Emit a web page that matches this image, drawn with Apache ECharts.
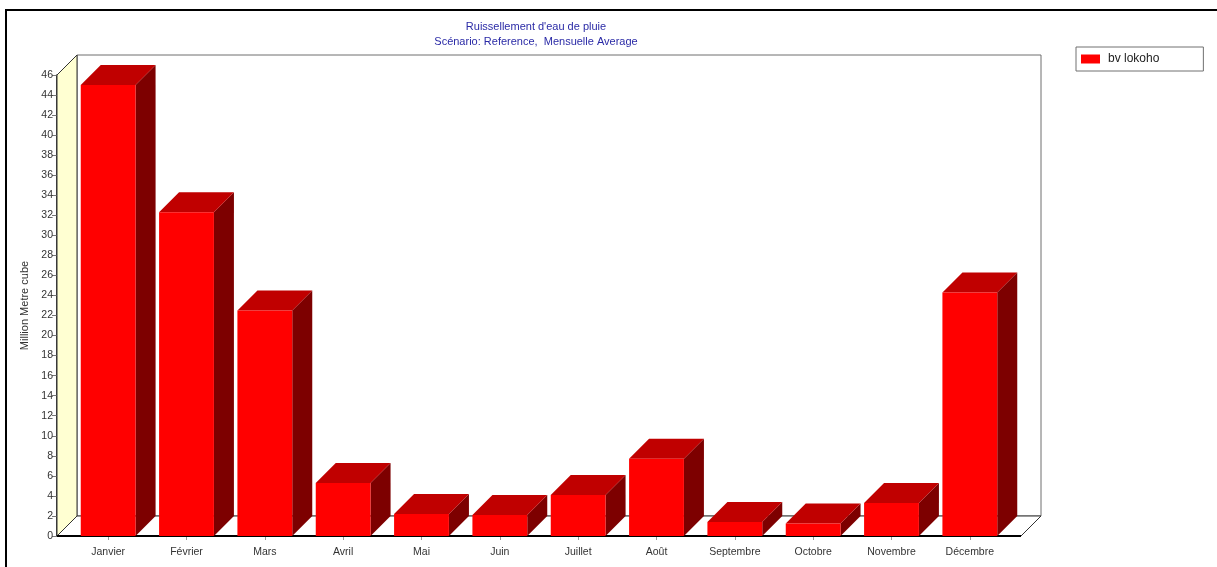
<!DOCTYPE html>
<html>
<head>
<meta charset="utf-8">
<title>Ruissellement d'eau de pluie</title>
<script src="https://cdn.jsdelivr.net/npm/echarts@6/dist/echarts.min.js"></script>
<style>
  html, body { margin: 0; padding: 0; background: #ffffff; }
  #chart { width: 1217px; height: 567px; }
</style>
</head>
<body>
<div id="chart"></div>
<script>
// Monthly rain runoff, Reference scenario (million m3)
const months = ['Janvier', 'Février', 'Mars', 'Avril', 'Mai', 'Juin',
                'Juillet', 'Août', 'Septembre', 'Octobre', 'Novembre', 'Décembre'];
const runoff = [45.0, 32.3, 22.5, 5.3, 2.2, 2.1, 4.1, 7.7, 1.4, 1.25, 3.3, 24.3];
const seriesName = 'bv lokoho';
const yTicks = { min: 0, max: 46, step: 2 };

const DEPTH = 20;      // 3D depth offset (px)
const EDGE = 12;       // floor margin beyond first/last category band
const narrow = "'Liberation Sans Narrow', 'Liberation Sans', Arial, sans-serif";
const sans = "'Liberation Sans', Arial, sans-serif";

const chart = echarts.init(document.getElementById('chart'), null, { renderer: 'canvas' });

// Walls and floor of the 3D box, built from the grid rectangle
function renderFrame(params, api) {
  const cs = params.coordSys;
  const L = cs.x - EDGE, R = cs.x + cs.width + EDGE;
  const T = cs.y, B = cs.y + cs.height, d = DEPTH;
  return {
    type: 'group',
    children: [
      { type: 'rect', shape: { x: L + d, y: T - d, width: R - L, height: B - T },
        style: { fill: '#ffffff', stroke: '#6e6e6e', lineWidth: 1 } },
      { type: 'polygon', shape: { points: [[L, T], [L + d, T - d], [L + d, B - d], [L, B]] },
        style: { fill: '#ffffd2', stroke: '#333333', lineWidth: 1 } },
      { type: 'polygon', shape: { points: [[L, B], [L + d, B - d], [R + d, B - d], [R, B]] },
        style: { fill: '#ffffff', stroke: '#333333', lineWidth: 1 } },
      { type: 'line', shape: { x1: L, y1: B, x2: R, y2: B },
        style: { stroke: '#000000', lineWidth: 2 } }
    ]
  };
}

// One 3D bar: front face, top face, right side face
function renderBar(params, api) {
  const i = api.value(0);
  const v = api.value(1);
  const base = api.coord([i, 0]);
  const top = api.coord([i, v]);
  const bw = api.size([1, 0])[0] * 0.7;
  const xl = base[0] - bw / 2, xr = base[0] + bw / 2;
  const yb = base[1], yt = top[1], d = DEPTH;
  return {
    type: 'group',
    children: [
      { type: 'polygon', shape: { points: [[xr, yt], [xr + d, yt - d], [xr + d, yb - d], [xr, yb]] },
        style: { fill: '#7d0000' } },
      { type: 'polygon', shape: { points: [[xl, yt], [xl + d, yt - d], [xr + d, yt - d], [xr, yt]] },
        style: { fill: '#c00000' } },
      { type: 'rect', shape: { x: xl, y: yt, width: bw, height: yb - yt },
        style: { fill: '#ff0000' } }
    ]
  };
}

const option = {
  backgroundColor: '#ffffff',
  animation: false,
  title: {
    text: "Ruissellement d'eau de pluie\nScénario: Reference,  Mensuelle Average",
    left: 531,
    top: 15,
    textAlign: 'center',
    textStyle: { fontFamily: sans, fontSize: 11, fontWeight: 'normal', color: '#2a2aa6', lineHeight: 14.5 }
  },
  legend: {
    data: [seriesName],
    left: 1076,
    top: 47,
    orient: 'vertical',
    icon: 'rect',
    itemWidth: 19,
    itemHeight: 9,
    padding: [6, 44, 6, 5],
    borderColor: '#707070',
    borderWidth: 1,
    backgroundColor: '#ffffff',
    selectedMode: false,
    textStyle: { fontFamily: sans, fontSize: 12, color: '#222222', padding: [0, 0, 0, 3] }
  },
  grid: { left: 69, top: 75, width: 940, height: 461, containLabel: false },
  xAxis: {
    type: 'category',
    data: months,
    axisLine: { show: false },
    axisTick: { show: true, alignWithLabel: true, length: 4, lineStyle: { color: '#999999' } },
    axisLabel: { margin: 11, fontFamily: narrow, fontSize: 10.5, color: '#333333' },
    splitLine: { show: false }
  },
  yAxis: {
    type: 'value',
    min: yTicks.min,
    max: yTicks.max,
    interval: yTicks.step,
    offset: EDGE,
    name: 'Million Metre cube',
    nameLocation: 'middle',
    nameRotate: 90,
    nameGap: 20,
    nameTextStyle: { fontFamily: sans, fontSize: 11, color: '#333333' },
    axisLine: { show: true, lineStyle: { color: '#000000', width: 1.5 } },
    axisTick: { show: true, length: 5, lineStyle: { color: '#777777' } },
    axisLabel: { margin: 4, fontFamily: narrow, fontSize: 10.5, color: '#333333' },
    splitLine: { show: false }
  },
  graphic: [
    { type: 'polyline', silent: true, z: 100,
      shape: { points: [[6, 567], [6, 10], [1217, 10]] },
      style: { stroke: '#000000', lineWidth: 2, fill: null } }
  ],
  series: [
    {
      name: 'frame',
      type: 'custom',
      renderItem: renderFrame,
      data: [[0, 0]],
      silent: true,
      z: 1
    },
    {
      name: seriesName,
      type: 'custom',
      renderItem: renderBar,
      itemStyle: { color: '#ff0000' },
      encode: { x: 0, y: 1 },
      data: runoff.map((v, i) => [i, v]),
      z: 2
    }
  ]
};

chart.setOption(option);
</script>
</body>
</html>
